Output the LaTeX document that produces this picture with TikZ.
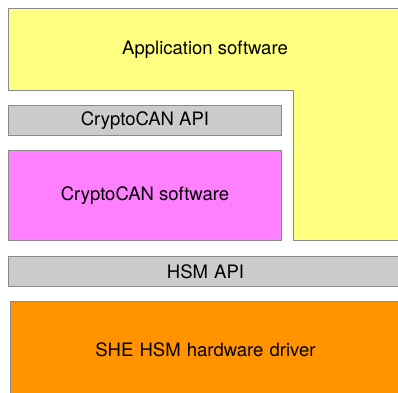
\documentclass[tikz,border=0pt]{standalone}
\usepackage{fontspec}
\setmainfont{TeX Gyre Heros}
\definecolor{appyellow}{RGB}{255,255,128}
\definecolor{cryptopink}{RGB}{255,128,255}
\definecolor{apigray}{RGB}{204,204,204}
\definecolor{hworange}{RGB}{255,148,0}
\definecolor{edgegray}{RGB}{138,138,138}
\tikzset{
  layer/.style={draw=edgegray, line width=0.9pt, inner sep=0pt, anchor=north west,
    font=\fontsize{18.5}{22}\selectfont, text=black},
  label/.style={font=\fontsize{18.5}{22}\selectfont, text=black}
}
\begin{document}
\begin{tikzpicture}[x=1pt, y=-1pt]
    \useasboundingbox (0,0) rectangle (398,392);
    \clip (0,0) rectangle (398,392);
    % Application software
    \draw[draw=edgegray, line width=0.9pt, fill=appyellow] (8,8) -- (410,8) -- (410,240) -- (293,240) -- (293,90) -- (8,90) -- cycle;
    \node[label] (app) at (205,50) {Application software};

    % CryptoCAN
    \node[layer, fill=apigray, minimum width=273pt, minimum height=30pt] (cryptoapi) at (8,105) {CryptoCAN API};
    \node[layer, fill=cryptopink, minimum width=273pt, minimum height=90pt] (cryptosw) at (8,150) {CryptoCAN software};

    % HSM (right edge runs off the page)
    \node[layer, fill=apigray, minimum width=394pt, minimum height=30pt, text width=394pt, align=center] (hsmapi) at (8,256) {HSM API};
    \node[layer, fill=hworange, minimum width=390pt, minimum height=100pt, text width=390pt, align=center] (hshw) at (10,301) {\raisebox{4pt}{SHE HSM hardware driver}};
\end{tikzpicture}
\end{document}
